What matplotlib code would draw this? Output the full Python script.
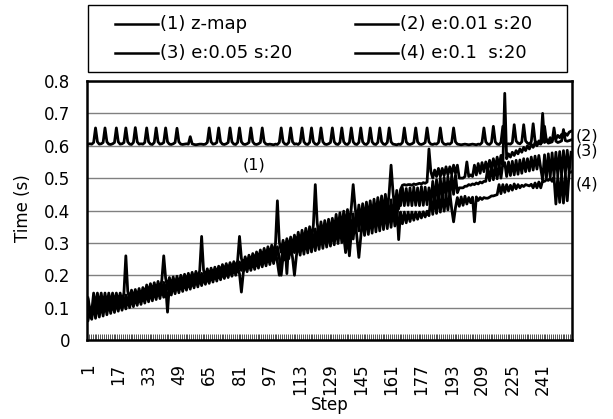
import matplotlib
matplotlib.use("Agg")
import matplotlib.pyplot as plt
import numpy as np
from matplotlib.lines import Line2D
from matplotlib.patches import Rectangle

# ---------------- data (time per step, in milliseconds) ----------------
steps = list(range(1, 257))

z_map_ms = [
    605, 606, 605, 610, 655, 612, 605, 606, 610, 655, 612, 605, 604, 606, 610, 655,
    612, 605, 606, 610, 655, 612, 605, 604, 610, 656, 612, 605, 606, 605, 610, 655,
    612, 605, 604, 610, 655, 612, 605, 606, 610, 655, 612, 605, 604, 606, 610, 654,
    612, 605, 604, 605, 606, 605, 628, 606, 604, 603, 604, 605, 605, 604, 605, 610,
    655, 612, 605, 606, 610, 655, 612, 605, 604, 606, 610, 655, 612, 605, 604, 610,
    655, 612, 605, 604, 606, 610, 655, 612, 605, 604, 606, 610, 655, 612, 605, 604,
    605, 604, 603, 605, 604, 610, 655, 612, 605, 604, 610, 655, 612, 605, 606, 604,
    610, 655, 612, 605, 604, 610, 655, 612, 605, 604, 610, 655, 612, 605, 604, 606,
    610, 655, 612, 605, 604, 610, 655, 612, 605, 604, 610, 655, 612, 605, 604, 610,
    655, 612, 605, 604, 610, 655, 612, 605, 604, 610, 655, 612, 605, 604, 610, 655,
    612, 605, 604, 603, 605, 604, 610, 655, 612, 605, 604, 606, 610, 655, 612, 605,
    604, 606, 610, 655, 612, 605, 604, 606, 605, 610, 655, 612, 605, 604, 606, 605,
    610, 655, 612, 605, 604, 603, 604, 605, 604, 603, 604, 605, 604, 603, 605, 604,
    610, 655, 612, 605, 604, 610, 660, 612, 605, 604, 610, 660, 612, 605, 606, 605,
    610, 665, 615, 608, 606, 612, 665, 615, 608, 606, 612, 668, 615, 608, 606, 607,
    612, 660, 615, 608, 610, 612, 655, 614, 610, 612, 615, 650, 616, 614, 616, 618,
]

e001_ms = [
    130, 95, 88, 145, 102, 145, 104, 145, 106, 145,
    108, 145, 110, 145, 112, 145, 114, 145, 116, 146,
    260, 151, 124, 154, 126, 156, 130, 159, 132, 162,
    138, 170, 142, 174, 146, 177, 149, 181, 153, 185,
    260, 191, 161, 193, 164, 195, 167, 197, 169, 200,
    173, 203, 177, 206, 180, 209, 184, 212, 187, 215,
    320, 217, 193, 220, 196, 222, 199, 225, 202, 228,
    207, 233, 210, 236, 213, 239, 217, 242, 220, 245,
    320, 252, 229, 257, 233, 262, 238, 267, 241, 272,
    246, 278, 251, 283, 255, 288, 259, 293, 263, 298,
    430, 303, 271, 308, 276, 313, 280, 318, 284, 324,
    290, 333, 295, 339, 300, 345, 305, 350, 308, 356,
    480, 362, 318, 365, 321, 369, 325, 373, 328, 376,
    335, 388, 339, 393, 343, 398, 348, 403, 352, 408,
    480, 412, 360, 417, 364, 421, 368, 426, 372, 430,
    376, 435, 380, 440, 384, 445, 389, 450, 393, 455,
    540, 458, 400, 462, 405, 465, 478, 480, 478, 480,
    480, 478, 482, 480, 482, 484, 482, 486, 484, 488,
    590, 520, 500, 525, 505, 530, 505, 530, 508, 535,
    510, 535, 512, 540, 515, 540, 500, 500, 500, 505,
    550, 505, 510, 505, 540, 510, 545, 515, 548, 520,
    550, 525, 555, 528, 560, 530, 565, 535, 570, 540,
    762, 560, 575, 565, 580, 570, 585, 575, 590, 580,
    595, 585, 600, 590, 605, 595, 610, 600, 615, 605,
    700, 610, 620, 612, 625, 615, 630, 620, 632, 625,
    635, 628, 638, 632, 642, 645,
]

e005_ms = [
    125, 79, 90, 81, 129, 84, 130, 87, 131, 90,
    132, 93, 132, 95, 133, 99, 134, 102, 134, 104,
    139, 109, 142, 112, 145, 115, 148, 119, 150, 122,
    157, 127, 161, 130, 165, 134, 168, 138, 172, 141,
    178, 145, 181, 148, 183, 152, 185, 155, 188, 158,
    192, 162, 195, 165, 198, 169, 201, 173, 204, 176,
    206, 179, 209, 182, 212, 186, 215, 190, 218, 193,
    223, 197, 226, 200, 229, 204, 232, 208, 235, 211,
    241, 215, 246, 219, 250, 223, 255, 227, 260, 230,
    265, 235, 270, 238, 275, 242, 279, 247, 284, 250,
    288, 254, 200, 258, 298, 205, 303, 266, 308, 270,
    316, 275, 321, 278, 327, 283, 332, 287, 337, 290,
    343, 295, 347, 298, 350, 302, 354, 306, 357, 309,
    367, 314, 372, 318, 376, 322, 270, 326, 260, 330,
    390, 334, 394, 337, 399, 341, 403, 345, 408, 348,
    412, 353, 416, 356, 421, 360, 426, 364, 430, 368,
    433, 371, 437, 374, 440, 415, 470, 415, 468, 416,
    470, 415, 472, 416, 470, 415, 474, 416, 472, 418,
    470, 420, 490, 425, 495, 430, 500, 435, 502, 440,
    505, 445, 508, 450, 510, 455, 470, 470, 470, 475,
    475, 480, 478, 482, 480, 485, 482, 488, 485, 490,
    490, 530, 492, 535, 495, 540, 498, 545, 500, 545,
    548, 505, 550, 508, 552, 510, 555, 512, 556, 515,
    560, 520, 560, 522, 565, 525, 568, 528, 570, 530,
    495, 572, 500, 575, 503, 578, 506, 580, 508, 582,
    510, 585, 514, 586, 517, 580,
]

e01_ms = [
    60, 85, 64, 113, 67, 115, 71, 116, 74, 117,
    78, 119, 82, 120, 85, 122, 89, 123, 92, 125,
    96, 130, 100, 133, 103, 136, 107, 139, 110, 142,
    114, 148, 118, 152, 121, 155, 125, 159, 128, 163,
    132, 168, 86, 171, 139, 173, 143, 176, 146, 179,
    150, 183, 154, 186, 157, 189, 161, 192, 164, 195,
    168, 198, 172, 201, 175, 204, 179, 207, 182, 210,
    186, 215, 190, 218, 193, 221, 197, 225, 200, 228,
    204, 148, 208, 238, 211, 242, 215, 247, 218, 251,
    222, 256, 226, 261, 229, 265, 233, 270, 236, 274,
    240, 200, 244, 283, 247, 287, 251, 292, 254, 200,
    258, 304, 262, 309, 265, 314, 269, 318, 272, 323,
    276, 328, 280, 331, 283, 335, 287, 339, 290, 342,
    294, 351, 298, 355, 301, 360, 305, 365, 308, 369,
    312, 373, 316, 255, 319, 381, 323, 386, 326, 389,
    330, 394, 334, 398, 337, 403, 341, 407, 344, 411,
    348, 412, 352, 416, 310, 395, 359, 395, 362, 395,
    366, 395, 370, 395, 373, 395, 377, 396, 380, 398,
    384, 440, 388, 445, 391, 448, 395, 450, 398, 447,
    402, 455, 405, 365, 409, 440, 413, 442, 416, 444,
    420, 440, 424, 441, 365, 442, 431, 440, 434, 440,
    438, 438, 441, 445, 445, 447, 449, 480, 452, 480,
    456, 480, 460, 478, 463, 482, 467, 480, 470, 478,
    474, 480, 478, 476, 481, 470, 485, 470, 488, 470,
    492, 490, 495, 493, 499, 490, 503, 420, 506, 425,
    510, 423, 513, 430, 517, 519,
]

series_labels = ["(1) z-map", "(2) e:0.01 s:20", "(3) e:0.05 s:20", "(4) e:0.1  s:20"]
end_labels = ["(2)", "(3)", "(4)"]
xtick_values = [1, 17, 33, 49, 65, 81, 97, 113, 129, 145, 161, 177, 193, 209, 225, 241]
xtick_labels = [str(v) for v in xtick_values]
ytick_values = [0, 0.1, 0.2, 0.3, 0.4, 0.5, 0.6, 0.7, 0.8]
ytick_labels = ["0", "0.1", "0.2", "0.3", "0.4", "0.5", "0.6", "0.7", "0.8"]

# ---------------- figure ----------------
plt.rcParams['font.family'] = ['DejaVu Sans']
W, H = 613, 419
fig = plt.figure(figsize=(W / 100, H / 100), dpi=100)
fig.patch.set_facecolor('white')


def fx(px):
    return px / W


def fy(py):
    return 1 - py / H


ax = fig.add_axes([fx(87), fy(340), fx(572) - fx(87), fy(81) - fy(340)])

for series in [e01_ms, e005_ms, e001_ms, z_map_ms]:
    ax.plot(steps, np.asarray(series) / 1000.0, color='black', lw=2.0)

ax.set_xlim(0.5, len(steps) + 0.5)
ax.set_ylim(0, 0.8)
ax.set_yticks(ytick_values)
ax.set_yticklabels(ytick_labels, fontsize=12)
ax.yaxis.grid(True, color='#808080', lw=1.0)
ax.set_axisbelow(True)
ax.tick_params(axis='y', length=0, pad=12)

ax.set_xticks(xtick_values)
ax.set_xticklabels(xtick_labels, fontsize=12, rotation=90)
ax.tick_params(axis='x', which='major', length=0, pad=17)
ax.set_xticks(np.arange(0.5, len(steps) + 1, 1.0), minor=True)
ax.tick_params(axis='x', which='minor', direction='in', length=4, width=0.6, color='#333333')

for sp in ax.spines.values():
    sp.set_linewidth(1.8)
    sp.set_color('black')

fig.text(fx(23), fy(208), "Time (s)", rotation=90, ha='center', va='center', fontsize=12)
fig.text(fx(330), fy(405), "Step", ha='center', va='center', fontsize=12)

# in-plot / right annotations
fig.text(fx(254), fy(165), "(1)", ha='center', va='center', fontsize=11.5)
for lab, py in zip(end_labels, [136, 151, 184]):
    fig.text(fx(587), fy(py), lab, ha='center', va='center', fontsize=11.5)

# legend (drawn in figure pixels)
fig.patches.append(Rectangle((fx(88), fy(72)), fx(567) - fx(88), fy(5) - fy(72),
                             transform=fig.transFigure, fill=False, edgecolor='black', lw=1.0))
legend_pos = [(115, 24), (355, 24), (115, 53), (355, 53)]
for lab, (px, py) in zip(series_labels, legend_pos):
    fig.lines.append(Line2D([fx(px), fx(px + 43)], [fy(py), fy(py)], transform=fig.transFigure,
                            color='black', lw=1.8))
    fig.text(fx(px + 45), fy(py), lab, ha='left', va='center', fontsize=13)

fig.savefig("out.png", dpi=100)
